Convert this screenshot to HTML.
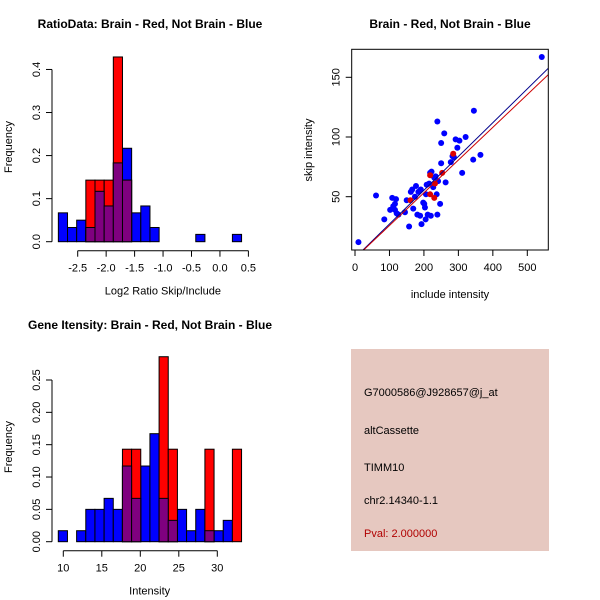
<!DOCTYPE html>
<html><head><meta charset="utf-8"><style>
body{margin:0;background:#fff}
svg{display:block;font-family:"Liberation Sans",sans-serif}
</style></head><body>
<svg id="c" width="600" height="600">
<rect x="351" y="349" width="198" height="202" fill="#e6c8c0"/>
<g font-size="11" fill="#000">
<text x="364" y="396">G7000586@J928657@j_at</text>
<text x="364" y="434">altCassette</text>
<text x="364" y="471">TIMM10</text>
<text x="364" y="504">chr2.14340-1.1</text>
<text x="364" y="537" fill="#b00000">Pval: 2.000000</text>
</g>
</svg>
<script>
// ---- Ratio histogram data
const ratioStart = -2.84, ratioBinW = 0.161;
const ratioBlue = [0.067,0.033,0.05,0.033,0.117,0.083,0.183,0.217,0.067,0.083,0.033,0,0,0,0,0.017,0,0,0,0.017];
const ratioRed  = [0,0,0,0.143,0.143,0.143,0.429,0.143,0,0,0,0,0,0,0,0,0,0,0,0];
const ratioXTicks = [-2.5,-2.0,-1.5,-1.0,-0.5,0.0,0.5];
const ratioXLabels = ["-2.5","-2.0","-1.5","-1.0","-0.5","0.0","0.5"];
const ratioYTicks = [0,0.1,0.2,0.3,0.4];
const ratioYLabels = ["0.0","0.1","0.2","0.3","0.4"];
// ---- Intensity histogram data
const intStart = 9.35, intBinW = 1.19;
const intBlue = [0.017,0,0.017,0.05,0.05,0.067,0.05,0.117,0.067,0.117,0.167,0.067,0.033,0.05,0.017,0.05,0.017,0.017,0.033,0];
const intRed  = [0,0,0,0,0,0,0,0.143,0.143,0,0,0.286,0.143,0,0,0,0.143,0,0,0.143];
const intXTicks = [10,15,20,25,30];
const intXLabels = ["10","15","20","25","30"];
const intYTicks = [0,0.05,0.1,0.15,0.2,0.25];
const intYLabels = ["0.00","0.05","0.10","0.15","0.20","0.25"];
// ---- Scatter data
const notBrainX = [10,61,85,102,108,111,116,119,116,121,126,145,150,157,162,166,169,174,177,181,184,189,191,193,198,201,203,205,206,208,211,215,218,220,222,227,230,234,237,239,239,241,247,250,250,259,263,278,283,287,292,297,303,311,321,343,345,364,542];
const notBrainY = [12,51,31,39,49,42,39,48,44,36,35,37,47,25,54,56,40,50,59,35,54,34,56,27,45,44,41,31,52,60,35,61,70,34,71,58,66,67,52,113,35,63,44,95,78,103,62,79,84,83,98,91,97,70,100,81,122,85,167];
const brainX = [161,218,218,230,232,253,285];
const brainY = [47,68,52,49,61,70,86];
const fitBlue = [0.283,-1.2];
const fitRed = [0.274,-1.5];
const scXTicks = [0,100,200,300,400,500];
const scYTicks = [50,100,150];

const NS="http://www.w3.org/2000/svg", svg=document.getElementById('c');
function mk(tag,attrs,parent){const e=document.createElementNS(NS,tag);for(const k in attrs)e.setAttribute(k,attrs[k]);(parent||svg).appendChild(e);return e;}
function txt(s,x,y,attrs){const t=mk('text',Object.assign({x:x,y:y,'font-size':11,'text-anchor':'middle'},attrs||{}));t.textContent=s;return t;}

function hist(o){
  const sx=v=>o.x0+(v-o.v0)*o.kx, sy=v=>o.y0-v*o.ky;
  const g=mk('g',{});
  
  
  const draw=(arr,col,nm)=>arr.forEach((v,i)=>{ if(v<=0)return;
    const a=o.start+i*o.bw,b=a+o.bw;
    const r=mk('rect',{x:sx(a),y:sy(v),width:sx(b)-sx(a),height:sy(0)-sy(v),fill:col,stroke:'#000','stroke-width':1},g);
    
    });
  draw(o.blue,'#0000ff','bar-blue');
  draw(o.red,'#ff0000','bar-red');
  draw(o.blue.map((v,i)=>Math.min(v,o.red[i])),'#7f007f','bar-overlap');
  const ax=mk('g',{stroke:'#000','stroke-width':1});
  
  
  mk('line',{x1:sx(o.xt[0]),x2:sx(o.xt[o.xt.length-1]),y1:o.axY,y2:o.axY},ax);
  o.xt.forEach((v,i)=>{mk('line',{x1:sx(v),x2:sx(v),y1:o.axY,y2:o.axY+6},ax);
    const t=txt(o.xl[i],sx(v),o.axY+21);
    
    });
  const ay=mk('g',{stroke:'#000','stroke-width':1});
  
  
  mk('line',{x1:o.axX,x2:o.axX,y1:sy(o.yt[0]),y2:sy(o.yt[o.yt.length-1])},ay);
  o.yt.forEach((v,i)=>{mk('line',{x1:o.axX,x2:o.axX-6,y1:sy(v),y2:sy(v)},ay);
    const t=txt(o.yl[i],0,0,{transform:`translate(${o.axX-12},${sy(v)}) rotate(-90)`});
    
    });
  const xt=txt(o.xTitle,(o.x0+o.xEnd)/2,o.axY+44);
  
  
  const yt=txt('Frequency',0,0,{transform:`translate(12,${o.yMid}) rotate(-90)`});
  
  
  const tt=txt(o.title,o.tx,o.ty,{'font-weight':'bold','font-size':12});
  
  
}
hist({name:'ratio-histogram',x0:77.7,v0:-2.5,kx:56.9,y0:241.7,ky:430.6,start:ratioStart,bw:ratioBinW,
  blue:ratioBlue,red:ratioRed,xt:ratioXTicks,xl:ratioXLabels,yt:ratioYTicks,yl:ratioYLabels,
  axY:250.7,axX:52,xTitle:'Log2 Ratio Skip/Include',xEnd:248,yMid:147,title:'RatioData: Brain - Red, Not Brain - Blue',tx:150,ty:28});
hist({name:'intensity-histogram',x0:63.3,v0:10,kx:7.7,y0:541.7,ky:646.8,start:intStart,bw:intBinW,
  blue:intBlue,red:intRed,xt:intXTicks,xl:intXLabels,yt:intYTicks,yl:intYLabels,
  axY:550.7,axX:52,xTitle:'Intensity',xEnd:236,yMid:447,title:'Gene Itensity: Brain - Red, Not Brain - Blue',tx:150,ty:329});

// scatter
const L=351.7,R=548.3,T=49.3,B=250;
const sx=v=>355+v*0.3446, sy=v=>196.7-(v-50)*1.194;
mk('defs',{}).innerHTML='<clipPath id="cp"><rect x="'+L+'" y="'+T+'" width="'+(R-L)+'" height="'+(B-T)+'"/></clipPath>';
const sg=mk('g',{});


notBrainX.forEach((x,i)=>{const c=mk('circle',{cx:sx(x),cy:sy(notBrainY[i]),r:3,fill:'#0000ff'},sg);
  
  });
brainX.forEach((x,i)=>{const c=mk('circle',{cx:sx(x),cy:sy(brainY[i]),r:3,fill:'#dd0000'},sg);
  
  });
[[fitBlue,'#00008b','fit-line-not-brain'],[fitRed,'#cc0000','fit-line-brain']].forEach(([f,col,nm])=>{
  const l=mk('line',{x1:sx(-10),y1:sy(f[0]*-10+f[1]),x2:sx(600),y2:sy(f[0]*600+f[1]),stroke:col,'stroke-width':1,'clip-path':'url(#cp)'},sg);
  
  });
const bx=mk('rect',{x:L,y:T,width:R-L,height:B-T,fill:'none',stroke:'#000'});


scXTicks.forEach(v=>{mk('line',{x1:sx(v),x2:sx(v),y1:B,y2:B+6,stroke:'#000'});
  const t=txt(String(v),sx(v),B+21);
  
  });
scYTicks.forEach(v=>{mk('line',{x1:L,x2:L-6,y1:sy(v),y2:sy(v),stroke:'#000'});
  const t=txt(String(v),0,0,{transform:`translate(${L-12},${sy(v)}) rotate(-90)`});
  
  });
let t=txt('include intensity',450,298);


t=txt('skip intensity',0,0,{transform:'translate(312,150) rotate(-90)'});


t=txt('Brain - Red, Not Brain - Blue',450,28,{'font-weight':'bold','font-size':12});


</script>
</body></html>
